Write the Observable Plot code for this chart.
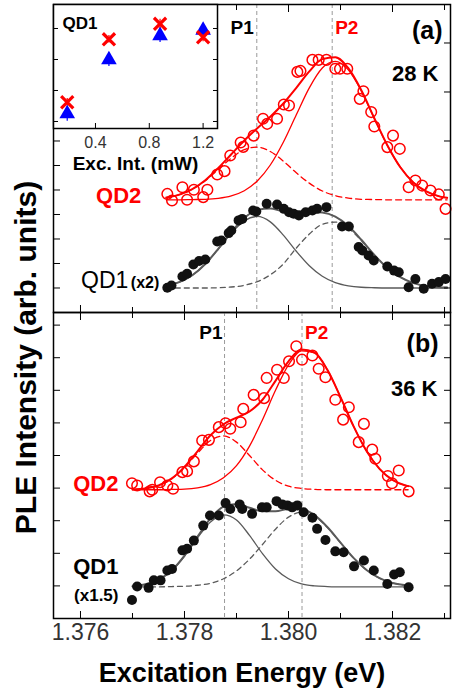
<!DOCTYPE html>
<html><head><meta charset="utf-8">
<script src="https://cdn.jsdelivr.net/npm/d3@7"></script>
<script src="https://cdn.jsdelivr.net/npm/@observablehq/plot@0.6"></script>
<style>
body{margin:0;background:#fff;}
#root{position:relative;width:453px;height:691px;overflow:hidden;font-family:"Liberation Sans",Arial,sans-serif;}
#root svg{position:absolute;overflow:visible;}
</style></head><body><div id="root"></div>
<script>
// ---------- x ticks (eV) ----------
const majorX = [1.376, 1.378, 1.380, 1.382];
const minorX = [1.377, 1.379, 1.381, 1.383];
// ---------- peak positions (dashed guide lines) ----------
const peaksA = [1.37939, 1.38084];
const peaksB = [1.37877, 1.38026];
// ---------- y ticks (arb. units) ----------
const yTicksA = [1,2,3,4,5,6,7,8,9,10,11,12];
const yTicksARight = [1,3,5,7,9,11];
const yTicksB = [1,2,3,4,5,6,7,8,9];

// ---------- panel (a), 28 K : fit curves sampled on an energy grid ----------
const gridA = [1.37765,1.37790,1.37815,1.37840,1.37865,1.37890,1.37915,1.37940,1.37965,1.37990,1.38015,1.38040,1.38065,1.38090,1.38115,1.38140,1.38165,1.38190,1.38215,1.38240,1.38265,1.38290,1.38305];
const qd1aFit = [1.10,1.24,1.52,1.98,2.60,3.28,3.86,4.18,4.24,4.14,4.13,4.11,4.08,3.91,3.53,2.97,2.35,1.82,1.44,1.20,1.08,1.03,1.02];
const qd1aP1  = [1.10,1.24,1.52,1.98,2.59,3.24,3.74,3.92,3.70,3.16,2.50,1.91,1.48,1.22,1.09,1.03,1.01,1.00,1.00,1.00,1.00,1.00,1.00];
const qd1aP2  = [1.00,1.00,1.00,1.00,1.01,1.04,1.11,1.26,1.54,1.98,2.63,3.20,3.60,3.69,3.44,2.94,2.35,1.82,1.44,1.20,1.08,1.03,1.02];
const qd2aFit = [4.69,4.81,5.04,5.40,5.90,6.46,7.02,7.52,7.99,8.53,9.17,9.84,10.34,10.42,9.97,9.07,7.93,6.83,5.93,5.31,4.94,4.74,4.68];
const qd2aP1  = [4.69,4.81,5.03,5.38,5.84,6.30,6.65,6.75,6.57,6.18,5.70,5.28,4.96,4.77,4.67,4.62,4.61,4.60,4.60,4.60,4.60,4.60,4.60];
const qd2aP2  = [4.60,4.60,4.61,4.62,4.66,4.76,4.97,5.37,6.02,6.95,8.07,9.17,9.98,10.25,9.90,9.04,7.92,6.82,5.93,5.31,4.94,4.74,4.68];
// measured points, panel (a)
const qd1aE = [1.37767,1.37775,1.37796,1.37805,1.37817,1.37828,1.37840,1.37863,1.37871,1.37885,1.37890,1.37904,1.37911,1.37932,1.37938,1.37958,1.37978,1.37991,1.38001,1.38010,1.38020,1.38033,1.38046,1.38055,1.38073,1.38103,1.38116,1.38135,1.38142,1.38154,1.38164,1.38190,1.38203,1.38212,1.38231,1.38244,1.38260,1.38276,1.38289,1.38302];
const qd1aI = [1.01,1.10,1.47,1.58,1.96,2.10,2.16,2.90,2.94,3.24,3.35,3.76,3.82,4.16,4.12,4.44,4.41,4.23,4.09,4.03,3.96,4.09,4.16,4.23,4.30,3.51,3.51,2.67,2.53,2.33,2.12,1.88,1.71,1.64,1.03,1.37,0.97,1.17,1.24,1.37];
const qd2aE = [1.37767,1.37776,1.37796,1.37805,1.37818,1.37836,1.37844,1.37863,1.37877,1.37888,1.37908,1.37913,1.37933,1.37951,1.37959,1.37978,1.37991,1.38001,1.38017,1.38023,1.38046,1.38058,1.38073,1.38090,1.38099,1.38113,1.38137,1.38144,1.38159,1.38165,1.38190,1.38201,1.38214,1.38231,1.38244,1.38257,1.38273,1.38289,1.38302];
const qd2aI = [4.84,4.57,5.11,4.60,5.01,4.71,5.01,5.63,5.77,6.41,6.94,6.76,7.22,7.91,7.70,7.91,8.49,8.45,9.82,9.86,10.31,10.31,10.31,9.95,9.95,9.95,8.72,9.03,8.18,7.59,6.75,7.22,6.68,5.11,5.39,5.18,4.98,4.82,4.23];

// ---------- panel (b), 36 K ----------
const gridB = [1.37700,1.37725,1.37750,1.37775,1.37800,1.37825,1.37850,1.37875,1.37900,1.37925,1.37950,1.37975,1.38000,1.38025,1.38050,1.38075,1.38100,1.38125,1.38150,1.38175,1.38200,1.38225,1.38230];
const qd1bFit = [0.99,1.05,1.19,1.47,1.93,2.51,3.07,3.43,3.51,3.40,3.29,3.29,3.36,3.35,3.17,2.80,2.33,1.86,1.49,1.24,1.09,1.02,1.01];
const qd1bP1  = [0.99,1.05,1.19,1.46,1.91,2.47,2.96,3.18,3.02,2.55,1.99,1.52,1.22,1.06,1.00,0.98,0.97,0.97,0.97,0.97,0.97,0.97,0.97];
const qd1bP2  = [0.97,0.97,0.97,0.98,0.99,1.02,1.08,1.22,1.46,1.82,2.27,2.74,3.11,3.26,3.14,2.79,2.32,1.86,1.49,1.24,1.09,1.02,1.01];
const qd2bFit = [3.96,3.99,4.08,4.29,4.65,5.13,5.62,5.96,6.16,6.35,6.71,7.29,7.89,8.25,8.16,7.62,6.79,5.90,5.14,4.59,4.25,4.08,4.06];
const qd2bP1  = [3.96,3.99,4.08,4.28,4.63,5.07,5.46,5.60,5.41,5.00,4.56,4.24,4.06,3.99,3.96,3.95,3.95,3.95,3.95,3.95,3.95,3.95,3.95];
const qd2bP2  = [3.95,3.95,3.95,3.96,3.97,4.01,4.11,4.32,4.69,5.29,6.10,7.00,7.78,8.21,8.15,7.62,6.79,5.90,5.14,4.59,4.25,4.08,4.06];
const qd1bE = [1.37699,1.37709,1.37731,1.37741,1.37754,1.37767,1.37776,1.37796,1.37805,1.37818,1.37836,1.37849,1.37866,1.37879,1.37888,1.37906,1.37911,1.37930,1.37949,1.37958,1.37977,1.37988,1.37998,1.38007,1.38017,1.38029,1.38046,1.38055,1.38071,1.38090,1.38106,1.38126,1.38145,1.38164,1.38190,1.38203,1.38214,1.38231];
const qd1bI = [0.57,0.98,0.94,1.17,1.17,1.47,1.52,2.09,2.14,2.39,2.85,3.16,3.16,3.54,3.36,3.50,3.36,3.21,3.41,3.41,3.60,3.50,3.47,3.41,3.47,3.26,3.09,2.75,2.41,2.06,2.03,1.60,1.78,1.47,1.06,1.35,1.42,0.96];
const qd2bE = [1.37699,1.37709,1.37733,1.37738,1.37753,1.37767,1.37778,1.37796,1.37805,1.37818,1.37834,1.37847,1.37866,1.37879,1.37888,1.37908,1.37913,1.37933,1.37953,1.37958,1.37978,1.37991,1.38001,1.38015,1.38026,1.38046,1.38058,1.38071,1.38090,1.38105,1.38116,1.38135,1.38145,1.38161,1.38167,1.38191,1.38199,1.38212,1.38231];
const qd2bI = [4.15,4.08,3.90,3.95,4.18,4.08,3.98,4.49,4.52,4.82,5.46,5.48,5.87,5.99,5.82,6.02,6.43,6.86,6.76,7.38,7.63,7.38,7.89,8.35,7.94,8.07,7.66,7.40,6.71,6.10,6.48,5.41,5.97,5.18,4.90,4.37,4.15,4.54,3.90];

// ---------- inset: QD1 peak intensity vs excitation power ----------
const insetPower = [0.19, 0.50, 0.88, 1.20];
const insetP1 = [0.62, 2.65, 3.15, 2.72];   // red crosses
const insetP1Err = [0.12, 0.12, 0.15, 0.15];
const insetP2 = [0.25, 1.99, 2.77, 2.94];   // blue triangles
const insetP2Err = [0.24, 0.22, 0.22, 0.16];
const insetXTicks = [0.4, 0.8, 1.2];
const insetYTicks = [0, 1, 2, 3];

// ---------- drawing ----------
const FONT = "Liberation Sans, Arial, Helvetica, sans-serif";
const RED = "#ff0000", GRAY = "#5a5a5a", GUIDE = "#9a9a9a", BLUE = "#0000ff";
const xDomain = [1.375481, 1.383115];
const rows = (E, V) => E.map((e, i) => ({e, v: V[i]}));
const root = document.getElementById("root");
function place(el, left, top) { el.style.left = left + "px"; el.style.top = top + "px"; root.appendChild(el); }

function fits(grid, total, p1, p2, color, dashedIsP1) {
  const dash = color === RED ? "6,4" : "5,4";
  return [
    Plot.line(rows(grid, p1), {x: "e", y: "v", stroke: color, strokeWidth: 1.3, curve: "monotone-x", strokeDasharray: dashedIsP1 ? dash : null}),
    Plot.line(rows(grid, p2), {x: "e", y: "v", stroke: color, strokeWidth: 1.3, curve: "monotone-x", strokeDasharray: dashedIsP1 ? null : dash}),
    Plot.line(rows(grid, total), {x: "e", y: "v", stroke: color, strokeWidth: 2, curve: "monotone-x"})
  ];
}
const none = () => "";
function frameTicks(yLeft, yRight) {
  return [
    Plot.axisX(majorX, {anchor: "bottom", tickSize: -7, tickFormat: none, label: null}),
    Plot.axisX(minorX, {anchor: "bottom", tickSize: -5, tickFormat: none, label: null}),
    Plot.axisX(majorX, {anchor: "top", tickSize: -7, tickFormat: none, label: null}),
    Plot.axisX(minorX, {anchor: "top", tickSize: -5, tickFormat: none, label: null}),
    Plot.axisY(yLeft, {anchor: "left", tickSize: -7, tickFormat: none, label: null}),
    Plot.axisY(yRight, {anchor: "right", tickSize: -7, tickFormat: none, label: null}),
    Plot.frame({stroke: "#000", strokeWidth: 1.5})
  ];
}
const txt = (s, o) => Plot.text([s], {text: d => d, fontWeight: "bold", lineAnchor: "middle", ...o});

// panel (a)
const plotA = Plot.plot({
  width: 453, height: 312, marginLeft: 53, marginRight: 3, marginTop: 4, marginBottom: 0,
  x: {domain: xDomain, axis: null}, y: {domain: [0, 12.571], axis: null},
  style: {fontFamily: FONT, background: "transparent", color: "#000"},
  marks: [
    Plot.ruleX(peaksA, {x: d => d, stroke: GUIDE, strokeDasharray: "4,3", strokeWidth: 1}),
    ...fits(gridA, qd2aFit, qd2aP1, qd2aP2, RED, true),
    ...fits(gridA, qd1aFit, qd1aP1, qd1aP2, GRAY, false),
    Plot.dot(rows(qd2aE, qd2aI), {x: "e", y: "v", r: 5.3, stroke: RED, strokeWidth: 1.5, fill: "none"}),
    Plot.dot(rows(qd1aE, qd1aI), {x: "e", y: "v", r: 5, fill: "#111", stroke: "none"}),
    ...frameTicks(yTicksA, yTicksARight),
    Plot.text([peaksA[0]], {x: d => d, frameAnchor: "top", dy: 23, text: () => "P1", textAnchor: "end", dx: -3, fontSize: 19, fontWeight: "bold", lineAnchor: "middle"}),
    Plot.text([peaksA[1]], {x: d => d, frameAnchor: "top", dy: 23, text: () => "P2", textAnchor: "start", dx: 3, fontSize: 19, fontWeight: "bold", fill: RED, lineAnchor: "middle"}),
    txt("(a)", {frameAnchor: "top-right", dx: -8, dy: 26, fontSize: 25, textAnchor: "end"}),
    txt("28 K", {frameAnchor: "top-right", dx: -12, dy: 69, fontSize: 22, textAnchor: "end"}),
    Plot.text([{e: gridA[0], v: qd2aP2[0]}], {x: "e", y: "v", text: () => "QD2", dx: -25, dy: -4, textAnchor: "end", fontSize: 22, fontWeight: "bold", fill: RED, lineAnchor: "middle"}),
    Plot.text([{e: gridA[0], v: qd1aP2[0]}], {x: "e", y: "v", text: () => "QD1", dx: -38, dy: -7, textAnchor: "end", fontSize: 23, lineAnchor: "middle"}),
    Plot.text([{e: gridA[0], v: qd1aP2[0]}], {x: "e", y: "v", text: () => "(x2)", dx: -7, dy: -5, textAnchor: "end", fontSize: 16, fontWeight: "bold", lineAnchor: "middle"})
  ]
});
place(plotA, 0, 0);

// panel (b)
const plotB = Plot.plot({
  width: 453, height: 379, marginLeft: 53, marginRight: 3, marginTop: 0, marginBottom: 73,
  x: {domain: xDomain, axis: null}, y: {domain: [0, 9.387], axis: null},
  style: {fontFamily: FONT, background: "transparent", color: "#000"},
  marks: [
    Plot.ruleX(peaksB, {x: d => d, stroke: GUIDE, strokeDasharray: "4,3", strokeWidth: 1}),
    ...fits(gridB, qd2bFit, qd2bP1, qd2bP2, RED, true),
    ...fits(gridB, qd1bFit, qd1bP1, qd1bP2, GRAY, false),
    Plot.dot(rows(qd2bE, qd2bI), {x: "e", y: "v", r: 5.3, stroke: RED, strokeWidth: 1.5, fill: "none"}),
    Plot.dot(rows(qd1bE, qd1bI), {x: "e", y: "v", r: 5, fill: "#111", stroke: "none"}),
    ...frameTicks(yTicksB, yTicksB),
    Plot.axisX(majorX, {anchor: "bottom", tickSize: 0, tickPadding: 5, fontSize: 23, fill: "#333", tickFormat: d => d.toFixed(3), label: null}),
    txt("Excitation Energy (eV)", {frameAnchor: "bottom", dy: 55, dx: -10, fontSize: 27}),
    Plot.text([peaksB[0]], {x: d => d, frameAnchor: "top", dy: 20, text: () => "P1", textAnchor: "end", dx: -2, fontSize: 19, fontWeight: "bold", lineAnchor: "middle"}),
    Plot.text([peaksB[1]], {x: d => d, frameAnchor: "top", dy: 20, text: () => "P2", textAnchor: "start", dx: 3, fontSize: 19, fontWeight: "bold", fill: RED, lineAnchor: "middle"}),
    txt("(b)", {frameAnchor: "top-right", dx: -12, dy: 31, fontSize: 25, textAnchor: "end"}),
    txt("36 K", {frameAnchor: "top-right", dx: -13, dy: 76, fontSize: 22, textAnchor: "end"}),
    Plot.text([{e: gridB[0], v: qd2bP2[0]}], {x: "e", y: "v", text: () => "QD2", dx: -14, dy: -6, textAnchor: "end", fontSize: 22, fontWeight: "bold", fill: RED, lineAnchor: "middle"}),
    Plot.text([{e: gridB[0], v: qd1bP1[0]}], {x: "e", y: "v", text: () => "QD1", dx: -14, dy: -19, textAnchor: "end", fontSize: 22, fontWeight: "bold", lineAnchor: "middle"}),
    Plot.text([{e: gridB[0], v: qd1bP1[0]}], {x: "e", y: "v", text: () => "(x1.5)", dx: -14, dy: 9, textAnchor: "end", fontSize: 17, fontWeight: "bold", lineAnchor: "middle"})
  ]
});
place(plotB, 0, 312);

// inset
const insetData = insetPower.map((p, i) => ({p, a: insetP1[i], ae: insetP1Err[i], b: insetP2[i], be: insetP2Err[i]}));
const plotI = Plot.plot({
  width: 164, height: 169, marginLeft: 0, marginRight: 0, marginTop: 0, marginBottom: 45,
  x: {domain: [0.088, 1.307], axis: null}, y: {domain: [-0.226, 3.774], axis: null},
  style: {fontFamily: FONT, background: "transparent", color: "#000", overflow: "visible"},
  marks: [
    Plot.frame({fill: "white", stroke: "none"}),
    Plot.ruleX(insetData, {x: "p", y1: d => d.a - d.ae, y2: d => d.a + d.ae, stroke: RED, strokeWidth: 1.2}),
    Plot.ruleX(insetData, {x: "p", y1: d => d.b - d.be, y2: d => d.b + d.be, stroke: BLUE, strokeWidth: 1.2}),
    Plot.dot(insetData, {x: "p", y: "b", symbol: "triangle", r: 5.8, fill: BLUE, stroke: "none"}),
    Plot.dot(insetData, {x: "p", y: "a", symbol: "times", r: 5.6, stroke: RED, strokeWidth: 3.2}),
    Plot.axisX(insetXTicks, {anchor: "bottom", tickSize: -5, tickFormat: none, label: null}),
    Plot.axisY(insetYTicks, {anchor: "left", tickSize: -5, tickFormat: none, label: null}),
    Plot.axisY(insetYTicks, {anchor: "right", tickSize: -5, tickFormat: none, label: null}),
    Plot.frame({stroke: "#000", strokeWidth: 1.5}),
    Plot.axisX(insetXTicks, {anchor: "bottom", tickSize: 0, tickPadding: 8, fontSize: 16, fill: "#333", tickFormat: d => d.toFixed(1), label: null}),
    txt("Exc. Int. (mW)", {frameAnchor: "bottom", dy: 35, fontSize: 19}),
    txt("QD1", {frameAnchor: "top-left", dx: 9, dy: 19.5, fontSize: 17, textAnchor: "start"})
  ]
});
place(plotI, 53, 4);

// shared y-axis title
const plotL = Plot.plot({
  width: 52, height: 691, margin: 0,
  style: {fontFamily: FONT, background: "transparent", color: "#000"},
  marks: [
    Plot.text(["PLE Intensity (arb. units)"], {text: d => d, frameAnchor: "top-left", dx: 26, dy: 357, rotate: -90, fontSize: 30, fontWeight: "bold", textAnchor: "middle", lineAnchor: "middle"})
  ]
});
place(plotL, 0, 0);
</script></body></html>
